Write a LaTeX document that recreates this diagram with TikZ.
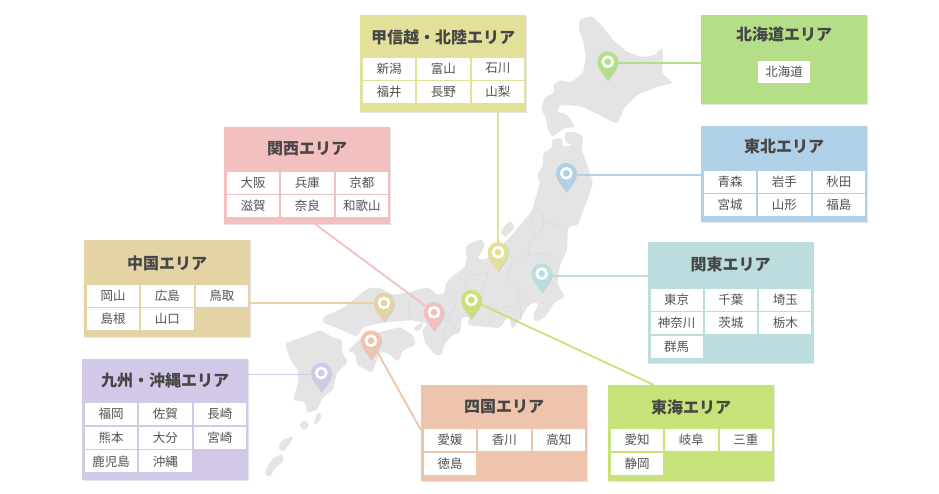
\documentclass[tikz,border=0pt]{standalone}
\usepackage{fontspec}
\setmainfont{Noto Sans CJK JP}
\usetikzlibrary{shadows}
\definecolor{cHokkaido}{HTML}{B5DE88}
\definecolor{cTohoku}{HTML}{B0D0E8}
\definecolor{cKanto}{HTML}{BBDDDD}
\definecolor{cKoshin}{HTML}{E3E09A}
\definecolor{cTokai}{HTML}{C8E27A}
\definecolor{cKansai}{HTML}{F3C0C0}
\definecolor{cChugoku}{HTML}{E3D3A5}
\definecolor{cShikoku}{HTML}{EEC4AC}
\definecolor{cKyushu}{HTML}{D2C8E8}
\definecolor{land}{HTML}{E4E4E4}
\definecolor{border}{HTML}{DADADA}
\tikzset{softshadow/.style={drop shadow={shadow xshift=.6pt, shadow yshift=-.8pt, opacity=.1, fill=black}}}
\tikzset{areabox/.style={anchor=north west, minimum width=166pt, inner sep=0pt, outer sep=0pt, fill=#1, softshadow}}
\tikzset{areatitle/.style={font=\bfseries\fontsize{16}{17}\selectfont, text=black!72, inner sep=0pt}}
\tikzset{cell/.style={anchor=north west, minimum width=52.3pt, minimum height=22pt, inner sep=0pt, outer sep=0pt, fill=white, text=black!68, font=\fontsize{12.5}{13}\selectfont}}
\tikzset{edge/.style={line width=1.8pt}}
\tikzset{mapline/.style={color=border, line width=.6pt, rounded corners=1.5pt}}
\tikzset{shore/.style={fill=land, rounded corners=2.5pt}}
\tikzset{pinhead/.style={circle, minimum size=20.6pt, inner sep=0pt, outer sep=0pt}}
\newcommand{\areacells}[3]{%
  \foreach \txt [count=\i from 0] in {#3} {
    \pgfmathtruncatemacro{\col}{mod(\i,3)}
    \pgfmathtruncatemacro{\row}{div(\i,3)}
    \node[cell] (#1-\i) at ([xshift=3pt+\col*54.3pt, yshift=-#2pt-\row*23.7pt]#1.north west) {\txt};
  }
}

\begin{document}
\begin{tikzpicture}[x=1pt,y=-1pt]
  \useasboundingbox (0,0) rectangle (939,493);

  % land
  \fill[shore] (579,20) -- (592,16) -- (603,27) -- (613,40) -- (627,52) -- (643,57) -- (655,55) -- (662,47) -- (663,57) -- (662,73) -- (673,83) -- (657,87) -- (637,95) -- (625,107) -- (617,124) -- (603,117) -- (583,107) -- (570,105) -- (560,105) -- (557,112) -- (567,114) -- (575,127) -- (565,128) -- (552,137) -- (547,127) -- (546,118) -- (541,109) -- (545,97) -- (555,92) -- (553,85) -- (560,80) -- (570,83) -- (583,73) -- (586,57) -- (583,40) -- (579,30) -- cycle;
  \fill[shore] (552,139) -- (562,138) -- (563,147) -- (573,145) -- (565,142) -- (565,132) -- (575,132) -- (583,136) -- (582,150) -- (590,173) -- (593,183) -- (588,198) -- (582,213) -- (578,225) -- (568,227) -- (567,250) -- (560,265) -- (557,283) -- (565,297) -- (555,302) -- (545,317) -- (535,322) -- (533,315) -- (539,303) -- (533,303) -- (527,307) -- (520,320) -- (512,329) -- (509,315) -- (500,328) -- (475,326) -- (467,325) -- (470,317) -- (462,317) -- (460,333) -- (452,335) -- (443,347) -- (442,355) -- (435,355) -- (425,343) -- (422,330) -- (428,323) -- (423,323) -- (412,320) -- (387,322) -- (377,324) -- (363,327) -- (357,337) -- (337,328) -- (323,323) -- (323,317) -- (343,308) -- (368,288) -- (380,288) -- (393,295) -- (410,292) -- (423,288) -- (430,288) -- (437,295) -- (445,293) -- (445,285) -- (450,278) -- (465,267) -- (467,257) -- (465,250) -- (467,245) -- (480,239) -- (485,243) -- (482,252) -- (477,258) -- (485,260) -- (510,237) -- (527,217) -- (532,210) -- (540,183) -- (537,175) -- (543,165) -- (543,153) -- (552,148) -- cycle;
  \fill[shore] (347,351) -- (362,337) -- (380,332) -- (400,327) -- (413,335) -- (416,345) -- (403,350) -- (398,362) -- (388,353) -- (380,352) -- (372,373) -- (357,365) -- (355,353) -- cycle;
  \fill[shore] (285,343) -- (303,337) -- (320,330) -- (332,337) -- (342,340) -- (342,352) -- (348,362) -- (337,373) -- (333,390) -- (323,397) -- (317,410) -- (307,413) -- (305,402) -- (293,400) -- (298,383) -- (298,370) -- (292,363) -- (288,353) -- cycle;
  % islands
  \fill[shore] (500,232) -- (510,220) -- (515,227) -- (505,238) -- cycle;
  \fill[shore] (413,328) -- (422,322) -- (423,327) -- (417,332) -- cycle;
  \fill[shore] (313,425) -- (318,412) -- (322,415) -- (318,423) -- cycle;
  \fill[land] (304.3,425.3) circle (4.3);
  \fill[shore] (278,448) -- (282,440) -- (294,436) -- (290,443) -- (283,452) -- cycle;
  \fill[shore] (265,475) -- (267,467) -- (273,458) -- (283,454) -- (283,462) -- (275,468) -- (270,477) -- cycle;
  % prefecture lines
  \draw[mapline] (413,293) -- (408,310) -- (412,320);
  \draw[mapline] (455,293) -- (457,303) -- (447,320) -- (455,328) -- (452,335);
  \draw[mapline] (447,320) -- (442,343);
  \draw[mapline] (467,277) -- (487,272) -- (488,278) -- (482,290) -- (483,303) -- (498,310) -- (505,307) -- (510,307) -- (520,300) -- (520,292) -- (510,282) -- (508,272) -- (513,260) -- (528,255) -- (548,253) -- (557,263);
  \draw[mapline] (467,277) -- (465,290);
  \draw[mapline] (520,307) -- (520,320);
  \draw[mapline] (528,255) -- (530,242) -- (543,227) -- (543,213) -- (535,210) -- (530,225);
  \draw[mapline] (543,220) -- (568,228);

  % boxes
  \node[areabox=cKoshin, minimum height=97pt] (koshin) at (360,15) {};
  \node[areabox=cHokkaido, minimum height=89pt] (hokkaido) at (701,15) {};
  \node[areabox=cTohoku, minimum height=96pt] (tohoku) at (701,126) {};
  \node[areabox=cKansai, minimum height=97pt] (kansai) at (224,127) {};
  \node[areabox=cChugoku, minimum height=97pt] (chugoku) at (84,240) {};
  \node[areabox=cKanto, minimum height=121pt] (kanto) at (647.5,242) {};
  \node[areabox=cKyushu, minimum height=121pt] (kyushu) at (82,359) {};
  \node[areabox=cShikoku, minimum height=96pt] (shikoku) at (421,385) {};
  \node[areabox=cTokai, minimum height=96pt] (tokai) at (608,385) {};

  \node[areatitle] (koshintitle) at ([yshift=-22pt]koshin.north) {甲信越・北陸エリア};
  \node[areatitle] (hokkaidotitle) at ([yshift=-19.5pt]hokkaido.north) {北海道エリア};
  \node[areatitle] (tohokutitle) at ([yshift=-20pt]tohoku.north) {東北エリア};
  \node[areatitle] (kansaititle) at ([yshift=-22pt]kansai.north) {関西エリア};
  \node[areatitle] (chugokutitle) at ([yshift=-23pt]chugoku.north) {中国エリア};
  \node[areatitle] (kantotitle) at ([yshift=-22pt]kanto.north) {関東エリア};
  \node[areatitle] (kyushutitle) at ([yshift=-21pt]kyushu.north) {九州・沖縄エリア};
  \node[areatitle] (shikokutitle) at ([yshift=-22pt]shikoku.north) {四国エリア};
  \node[areatitle] (tokaititle) at ([yshift=-22pt]tokai.north) {東海エリア};

  \areacells{koshin}{42.5}{新潟,富山,石川,福井,長野,山梨}
  \node[cell] (hokkaido-0) at ([xshift=57pt, yshift=-46pt]hokkaido.north west) {北海道};
  \areacells{tohoku}{44.5}{青森,岩手,秋田,宮城,山形,福島}
  \areacells{kansai}{44.5}{大阪,兵庫,京都,滋賀,奈良,和歌山}
  \areacells{chugoku}{44.5}{岡山,広島,鳥取,島根,山口}
  \areacells{kanto}{46.5}{東京,千葉,埼玉,神奈川,茨城,栃木,群馬}
  \areacells{kyushu}{44}{福岡,佐賀,長崎,熊本,大分,宮崎,鹿児島,沖縄}
  \areacells{shikoku}{44}{愛媛,香川,高知,徳島}
  \areacells{tokai}{44}{愛知,岐阜,三重,静岡}

  % pins
  \foreach \name/\x/\y/\col in {pinHokkaido/607.7/61.7/cHokkaido, pinTohoku/566.3/173.3/cTohoku, pinKanto/541.7/273.7/cKanto, pinKoshin/498/252.3/cKoshin, pinTokai/471.3/300/cTokai, pinKansai/434/312.3/cKansai, pinChugoku/384/303/cChugoku, pinShikoku/371/340.7/cShikoku, pinKyushu/321.3/373/cKyushu} {
    \node[pinhead] (\name) at (\x,\y) {};
    \coordinate (\name tip) at (\x,\y+19);
    \fill[\col, softshadow] (\name.west) .. controls +(0,-5.7) and +(-5.7,0) .. (\name.north) .. controls +(5.7,0) and +(0,-5.7) .. (\name.east) .. controls +(0,7) and +(3.5,-6) .. (\name tip) .. controls +(-3.5,-6) and +(0,7) .. cycle;
    \draw[white, line width=2.6pt] (\name) circle (5);
  }

  % connectors
  \coordinate (endKansai) at (315,224);
  \coordinate (endTokai) at (654,385);
  \coordinate (endShikoku) at (421,430);
  \draw[edge, color=cHokkaido] ([yshift=-1pt]pinHokkaido.east) -- ([yshift=-1pt]pinHokkaido.east -| hokkaido.west);
  \draw[edge, color=cTohoku] ([yshift=-1.5pt]pinTohoku.east) -- ([yshift=-1.5pt]pinTohoku.east -| tohoku.west);
  \draw[edge, color=cKanto] ([yshift=-2pt]pinKanto.east) -- ([yshift=-2pt]pinKanto.east -| kanto.west);
  \draw[edge, color=cKoshin] (pinKoshin.north) -- (pinKoshin.north |- koshin.south);
  \draw[edge, color=cChugoku] (pinChugoku.west) -- (pinChugoku.west -| chugoku.east);
  \draw[edge, color=cKyushu] ([yshift=-1.5pt]pinKyushu.west) -- ([yshift=-1.5pt]pinKyushu.west -| kyushu.east);
  \draw[edge, color=cKansai] (pinKansai) -- (endKansai);
  \draw[edge, color=cTokai] (pinTokai) -- (endTokai);
  \draw[edge, color=cShikoku] (pinShikoku) -- (endShikoku);
\end{tikzpicture}
\end{document}
